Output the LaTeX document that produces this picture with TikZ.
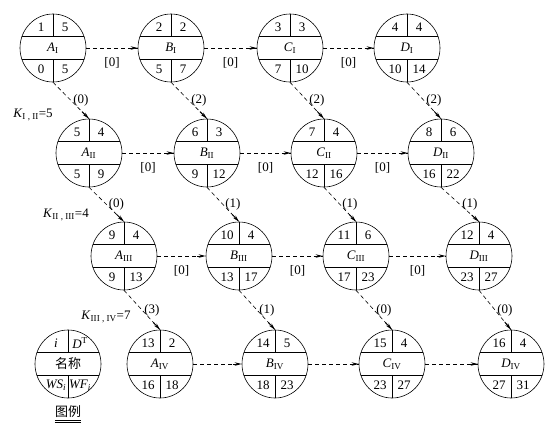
\documentclass[tikz,border=0pt]{standalone}
\usepackage{fontspec}
\setmainfont{Liberation Serif}
\newfontfamily\cjk{Noto Sans CJK SC}
\usetikzlibrary{shapes.geometric,arrows.meta,calc}
\tikzset{
  wbox/.style={ellipse,draw,line width=0.6pt,inner sep=0pt,minimum width=66pt,minimum height=68pt},
  wline/.style={line width=0.6pt},
  wtxt/.style={inner sep=0pt,font=\fontsize{13}{15}\selectfont},
  flow/.style={line width=0.6pt,dash pattern=on 4pt off 3pt},
  tipseg/.style={line width=0.9pt,-{Stealth[length=7pt,width=3.5pt]}},
  hlab/.style={inner sep=0pt,below=9pt,font=\fontsize{13}{15}\selectfont},
  dlab/.style={inner sep=0pt,pos=0.5,anchor=west,xshift=2pt,font=\fontsize{13}{15}\selectfont},
  klab/.style={inner sep=0pt,font=\fontsize{13}{15}\selectfont}
}
\newcommand\wnode[8]{%
  \node[wbox] (#1) at (#2,#3) {};
  \begin{scope}
    \clip (#2,#3) ellipse [x radius=33pt, y radius=34pt];
    \draw[wline] (#2-40,#3-11.5) -- (#2+40,#3-11.5);
    \draw[wline] (#2-40,#3+11.5) -- (#2+40,#3+11.5);
  \end{scope}
  \draw[wline] (#1.north) -- (#2,#3-11.5);
  \draw[wline] (#2,#3+11.5) -- (#1.south);
  \node[wtxt] (#1-tl) at (#2-12,#3-21) {#4};
  \node[wtxt] (#1-tr) at (#2+12,#3-21) {#5};
  \node[wtxt] (#1-nm) at (#2,#3) {#6};
  \node[wtxt] (#1-bl) at (#2-12,#3+21) {#7};
  \node[wtxt] (#1-br) at (#2+12,#3+21) {#8};
}
\newcommand\harrow[3]{%
  \draw[flow] (#1.east) -- node[hlab] {#3} (#2.west);
  \draw[tipseg] ($(#2.west)!9pt!(#1.east)$) -- (#2.west);
}
\newcommand\darrow[3]{%
  \draw[flow] (#1.south) -- node[dlab] {#3} (#2.north);
  \draw[tipseg] ($(#2.north)!10pt!(#1.south)$) -- (#2.north);
}
\newcommand\nm[2]{\textit{#1}\textsubscript{#2}}
\begin{document}
\begin{tikzpicture}[x=1pt,y=-1pt]
\fill[white] (0,0) rectangle (554,432);
\useasboundingbox (0,0) rectangle (554,432);
% row I
\wnode{A1}{53}{48}{1}{5}{\nm{A}{I}}{0}{5}
\wnode{B1}{171}{48}{2}{2}{\nm{B}{I}}{5}{7}
\wnode{C1}{290}{48}{3}{3}{\nm{C}{I}}{7}{10}
\wnode{D1}{407}{48}{4}{4}{\nm{D}{I}}{10}{14}
% row II
\wnode{A2}{89}{153}{5}{4}{\nm{A}{II}}{5}{9}
\wnode{B2}{207}{153}{6}{3}{\nm{B}{II}}{9}{12}
\wnode{C2}{324}{153}{7}{4}{\nm{C}{II}}{12}{16}
\wnode{D2}{441}{153}{8}{6}{\nm{D}{II}}{16}{22}
% row III
\wnode{A3}{124}{256}{9}{4}{\nm{A}{III}}{9}{13}
\wnode{B3}{239}{256}{10}{4}{\nm{B}{III}}{13}{17}
\wnode{C3}{356}{256}{11}{6}{\nm{C}{III}}{17}{23}
\wnode{D3}{479}{256}{12}{4}{\nm{D}{III}}{23}{27}
% row IV
\wnode{A4}{160}{364}{13}{2}{\nm{A}{IV}}{16}{18}
\wnode{B4}{275}{364}{14}{5}{\nm{B}{IV}}{18}{23}
\wnode{C4}{392}{364}{15}{4}{\nm{C}{IV}}{23}{27}
\wnode{D4}{511}{364}{16}{4}{\nm{D}{IV}}{27}{31}
% legend
\wnode{L}{68}{364}{\textit{i}}{\textit{D}\textsuperscript{T}}{{\cjk 名称}}{\textit{WS}\textsubscript{\textit{i}}}{\textit{WF}\textsubscript{\textit{i}}}
\node[klab] (legtitle) at (68,412) {\cjk 图例};
\draw[line width=0.5pt] ($(legtitle.south west)+(0,2)$) -- ($(legtitle.south east)+(0,2)$);
\draw[line width=0.5pt] ($(legtitle.south west)+(0,4)$) -- ($(legtitle.south east)+(0,4)$);
% horizontal arrows
\harrow{A1}{B1}{[0]}
\harrow{B1}{C1}{[0]}
\harrow{C1}{D1}{[0]}
\harrow{A2}{B2}{[0]}
\harrow{B2}{C2}{[0]}
\harrow{C2}{D2}{[0]}
\harrow{A3}{B3}{[0]}
\harrow{B3}{C3}{[0]}
\harrow{C3}{D3}{[0]}
\harrow{A4}{B4}{}
\harrow{B4}{C4}{}
\harrow{C4}{D4}{}
% diagonal arrows
\darrow{A1}{A2}{(0)}
\darrow{B1}{B2}{(2)}
\darrow{C1}{C2}{(2)}
\darrow{D1}{D2}{(2)}
\darrow{A2}{A3}{(0)}
\darrow{B2}{B3}{(1)}
\darrow{C2}{C3}{(1)}
\darrow{D2}{D3}{(1)}
\darrow{A3}{A4}{(3)}
\darrow{B3}{B4}{(1)}
\darrow{C3}{C4}{(0)}
\darrow{D3}{D4}{(0)}
% K labels
\node[klab] (k12) at (33,115) {\textit{K}\textsubscript{I , II}=5};
\node[klab] (k23) at (66,215) {\textit{K}\textsubscript{II , III}=4};
\node[klab] (k34) at (106,317) {\textit{K}\textsubscript{III , IV}=7};
\end{tikzpicture}
\end{document}
